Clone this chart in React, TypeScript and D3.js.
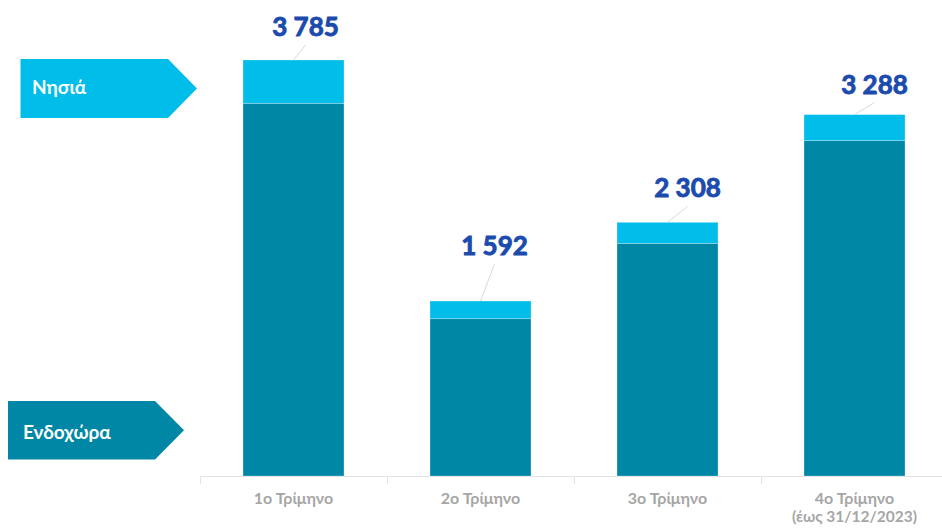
import React from "react";
import * as d3 from "d3";

const categories = ["1ο Τρίμηνο", "2ο Τρίμηνο", "3ο Τρίμηνο", "4ο Τρίμηνο|(έως 31/12/2023)"];
const mainland = [3391, 1431, 2117, 3051];
const islands = [394, 161, 191, 237];
const totals = [3785, 1592, 2308, 3288];
const totalLabels = ["3 785", "1 592", "2 308", "3 288"];
const legendLabels = ["Νησιά", "Ενδοχώρα"];

const labelDx = [12, 14, 20, 20];
const labelDy = [24, 46, 25, 21];

const W = 942;
const H = 528;
const baseY = 476;
const LIGHT = "#00BDEA";
const DARK = "#0087A6";
const LABEL = "#1C4BAE";
const FONT = "Lato, 'Open Sans', sans-serif";

export default function App() {
  const x = d3.scaleBand<string>().domain(categories).range([200, 948]).paddingInner(0.46).paddingOuter(0.23);
  const y = d3.scaleLinear().domain([0, 4000]).range([baseY, baseY - 4000 * 0.10991]);
  const step = x.step();
  const bounds = d3.range(categories.length + 1).map((i) => 200 + i * step);

  const arrow = (x0: number, x1: number, tip: number, y0: number, y1: number) =>
    `M${x0},${y0}L${x1},${y0}L${tip},${(y0 + y1) / 2}L${x1},${y1}L${x0},${y1}Z`;

  return (
    <svg width={W} height={H} style={{ position: "absolute", left: 0, top: 0, display: "block" }} fontFamily={FONT}>
      <rect width={W} height={H} fill="#fff" />
      {/* axis */}
      <line x1={200} x2={W} y1={baseY + 0.5} y2={baseY + 0.5} stroke="#e3e3e3" strokeWidth={1} />
      {bounds.map((b, i) => (
        <line key={i} x1={b + 0.5} x2={b + 0.5} y1={baseY} y2={baseY + 8} stroke="#e3e3e3" strokeWidth={1} />
      ))}
      {categories.map((c, i) => {
        const x0 = x(c)!;
        const bw = x.bandwidth();
        const yM = y(mainland[i]);
        const yT = y(mainland[i] + islands[i]);
        const cx = x0 + bw / 2;
        const lx = cx + labelDx[i];
        const ly = y(totals[i]) - labelDy[i];
        return (
          <g key={c}>
            <rect x={x0} y={yM} width={bw} height={baseY - yM} fill={DARK} stroke="#ffffff" strokeOpacity={0.35} strokeWidth={0.75} />
            <rect x={x0} y={yT} width={bw} height={yM - yT} fill={LIGHT} stroke="#ffffff" strokeOpacity={0.35} strokeWidth={0.75} />
            <line x1={cx} y1={y(totals[i])} x2={lx} y2={ly + 9} stroke="#d9d9d9" strokeWidth={1} />
            <text x={lx} y={ly} textAnchor="middle" fontSize={26} fontWeight={700} fill={LABEL} stroke={LABEL} strokeWidth={0.9}>
              {totalLabels[i]}
            </text>
            {c.split("|").map((t, k) => (
              <text key={k} x={cx} y={504 + k * 18} textAnchor="middle" fontSize={k === 0 ? 16 : 15.5} fontWeight={700} fill="#A6A6A6">
                {t}
              </text>
            ))}
          </g>
        );
      })}
      {/* legend arrows */}
      <path d={arrow(20.5, 168, 197, 59, 118)} fill={LIGHT} />
      <text x={32} y={94} fontSize={19} fontWeight={700} fill="#fff">{legendLabels[0]}</text>
      <path d={arrow(8, 155, 184, 401, 459.5)} fill={DARK} />
      <text x={23} y={439} fontSize={19} fontWeight={700} fill="#fff">{legendLabels[1]}</text>
    </svg>
  );
}
